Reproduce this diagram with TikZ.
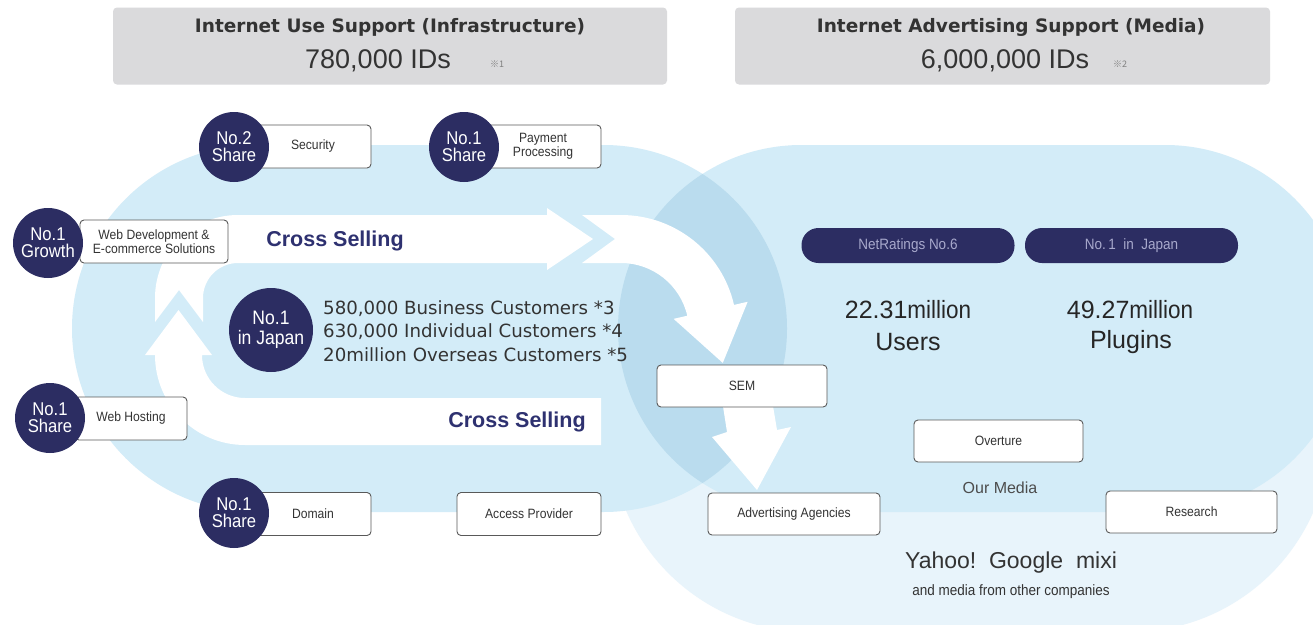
\documentclass[tikz,border=0pt]{standalone}
\usepackage{fontspec}
\setmainfont{Liberation Sans}
\newfontfamily\dvs{DejaVu Sans}
\newfontfamily\cjkf{Noto Sans CJK JP}
\newfontfamily\condf[FakeStretch=0.9]{Liberation Sans}
\usetikzlibrary{calc}
\definecolor{navy}{HTML}{2C2D62}
\definecolor{lblue}{HTML}{D3ECF8}
\definecolor{oblue}{HTML}{BADCEE}
\definecolor{pblue}{HTML}{E8F4FB}
\definecolor{hgray}{HTML}{DADADC}
\definecolor{txt}{HTML}{333333}
\definecolor{csel}{HTML}{2E3170}
\definecolor{pilltxt}{HTML}{A8A9CC}
\tikzset{
 lbox/.style={draw=gray!70!black, line width=0.9pt, fill=white, rounded corners=4pt,
   minimum height=43pt, inner sep=0pt, align=center, text=txt,
   font=\condf\fontsize{13.5}{14}\selectfont},
 badge/.style={circle, fill=navy, minimum size=70pt, inner sep=0pt, align=center,
   text=white, font=\condf\fontsize{18.5}{17}\selectfont},
 pill/.style={fill=navy, rounded corners=17pt, minimum width=213pt, minimum height=35pt,
   inner sep=0pt, text=pilltxt, font=\condf\fontsize{15}{17}\selectfont},
 hdr/.style={fill=hgray, rounded corners=4pt, inner sep=0pt, minimum height=77pt},
 hdrtitle/.style={inner sep=0pt, text=txt, font=\dvs\bfseries\fontsize{18.5}{20}\selectfont},
 hdrnum/.style={inner sep=0pt, text=txt, font=\fontsize{27}{30}\selectfont},
 note/.style={inner sep=0pt, text=gray, font=\cjkf\fontsize{9}{10}\selectfont},
 xsell/.style={inner sep=0pt, text=csel, font=\bfseries\fontsize{21.5}{24}\selectfont},
 bignum/.style={inner sep=0pt, text=black!85, font=\fontsize{25}{28}\selectfont},
 wht/.style={fill=white},
}
\begin{document}
\begin{tikzpicture}[x=1pt,y=-1pt]
\useasboundingbox (0,0) rectangle (1313,624);
\fill[white] (0,0) rectangle (1313,624);

% background shapes
\begin{scope}
\clip (0,0) rectangle (1313,624);
\fill[pblue, rounded corners=200pt] (610,145) rectangle (1330,632);
\fill[lblue] (801.5,145) -- (1165,145) arc[start angle=-90, end angle=90, radius=183.5]
  -- (801.5,512) arc[start angle=90, end angle=270, radius=183.5] -- cycle;
\fill[lblue] (255.5,145) -- (603.5,145) arc[start angle=-90, end angle=90, radius=183.5]
  -- (255.5,512) arc[start angle=90, end angle=270, radius=183.5] -- cycle;
\begin{scope}
\clip (255.5,145) -- (603.5,145) arc[start angle=-90, end angle=90, radius=183.5]
  -- (255.5,512) arc[start angle=90, end angle=270, radius=183.5] -- cycle;
\fill[oblue] (801.5,145) -- (1165,145) arc[start angle=-90, end angle=90, radius=183.5]
  -- (801.5,512) arc[start angle=90, end angle=270, radius=183.5] -- cycle;
\end{scope}
\end{scope}

% headers
\node[hdr, minimum width=554pt] (h1) at (390,46) {};
\node[hdr, minimum width=535pt] (h2) at (1002.5,46) {};
\node[hdrtitle] (h1t) at (390,27) {Internet Use Support (Infrastructure)};
\node[hdrnum] (h1n) at (378,61) {780,000 IDs};
\node[note] (h1s) at (497,64) {※1};
\node[hdrtitle] (h2t) at (1011,27) {Internet Advertising Support (Media)};
\node[hdrnum] (h2n) at (1005,61) {6,000,000 IDs};
\node[note] (h2s) at (1120,64) {※2};

% white cycle arrows
\coordinate (cB) at (621,331);
\fill[wht] (155,322) -- (155,298) arc[start angle=180, end angle=270, radius=83]
  -- (547,215) -- (547,208) -- (593,239) -- (547,270) -- (547,263) -- (238,263)
  arc[start angle=270, end angle=180, radius=35] -- (203,322) -- (179,290) -- cycle;
\fill[wht] (582,215) -- (621,215) arc[start angle=-90, end angle=-13, radius=116]
  -- ($(cB)+(-13:130)$) -- ($(cB)+(-13:92)+(77:54)$) -- ($(cB)+(-13:54)$)
  -- ($(cB)+(-13:68)$) arc[start angle=-13, end angle=-90, radius=68]
  -- (582,263) -- (615,239) -- cycle;
\fill[wht] (601,398) -- (245,398) arc[start angle=90, end angle=180, radius=43]
  -- (212,355) -- (178.5,310) -- (145,355) -- (155,355)
  arc[start angle=180, end angle=90, radius=90] -- (601,445) -- cycle;
\fill[wht] (722,400) -- (727,432) -- (712,437) -- (757,490) -- (791,427) -- (777,430) -- (772,400) -- cycle;

% cross selling labels
\node[xsell] (xs1) at (335,241) {Cross Selling};
\node[xsell] (xs2) at (517,422) {Cross Selling};

% left boxes
\node[lbox, minimum width=116pt] (sec) at (313,146.5) {Security};
\node[lbox, minimum width=116pt] (pay) at (543,146.5) {Payment\\Processing};
\node[lbox, minimum width=148pt] (web) at (154,241.5) {Web Development \&\\E-commerce Solutions};
\node[lbox, minimum width=112pt] (host) at (131,418.5) {Web Hosting};
\node[lbox, minimum width=116pt] (dom) at (313,514) {Domain};
\node[lbox, minimum width=144pt] (acc) at (529,514) {Access Provider};

% badges
\node[badge] (b1) at (234,147) {No.2\\Share};
\node[badge] (b2) at (464,147) {No.1\\Share};
\node[badge] (b3) at (48,243) {No.1\\Growth};
\node[badge] (b4) at (50,418) {No.1\\Share};
\node[badge] (b5) at (234,513) {No.1\\Share};
\node[badge, minimum size=84pt, font=\condf\fontsize{19.5}{20}\selectfont] (b6) at (271,330) {No.1\\in Japan};

% customers
\node[anchor=west, inner sep=0pt, align=left, text=txt, font=\dvs\fontsize{18.2}{23.5}\selectfont] (cust) at (323,331)
 {580,000 Business Customers *3\\630,000 Individual Customers *4\\20million Overseas Customers *5};

% right side
\node[pill] (p1) at (908,245.5) {NetRatings No.6};
\node[pill] (p2) at (1131.5,245.5) {No.\,1\ \ in\ \ Japan};
\node[bignum] (n1) at (908,310) {22.31{\condf million}};
\node[bignum] (u1) at (908,342) {Users};
\node[bignum] (n2) at (1130,310) {49.27{\condf million}};
\node[bignum] (u2) at (1131,342) {Plugins};

\node[lbox, minimum width=170pt, minimum height=42pt] (sem) at (742,386) {SEM};
\node[lbox, minimum width=172pt, minimum height=42pt] (adv) at (794,514) {Advertising Agencies};
\node[lbox, minimum width=169pt, minimum height=42pt] (ovt) at (998.5,441) {Overture};
\node[lbox, minimum width=171pt, minimum height=42pt] (res) at (1191.5,512) {Research};

\node[inner sep=0pt, text=black!70, font=\fontsize{16}{18}\selectfont] (om) at (1000,488) {Our Media};
\node[inner sep=0pt, text=black!80, font=\fontsize{23}{26}\selectfont] (yg) at (1011,563) {Yahoo!\ \ Google\ \ mixi};
\node[inner sep=0pt, text=black!80, font=\condf\fontsize{15}{17}\selectfont] (oth) at (1011,592) {and media from other companies};
\end{tikzpicture}
\end{document}
